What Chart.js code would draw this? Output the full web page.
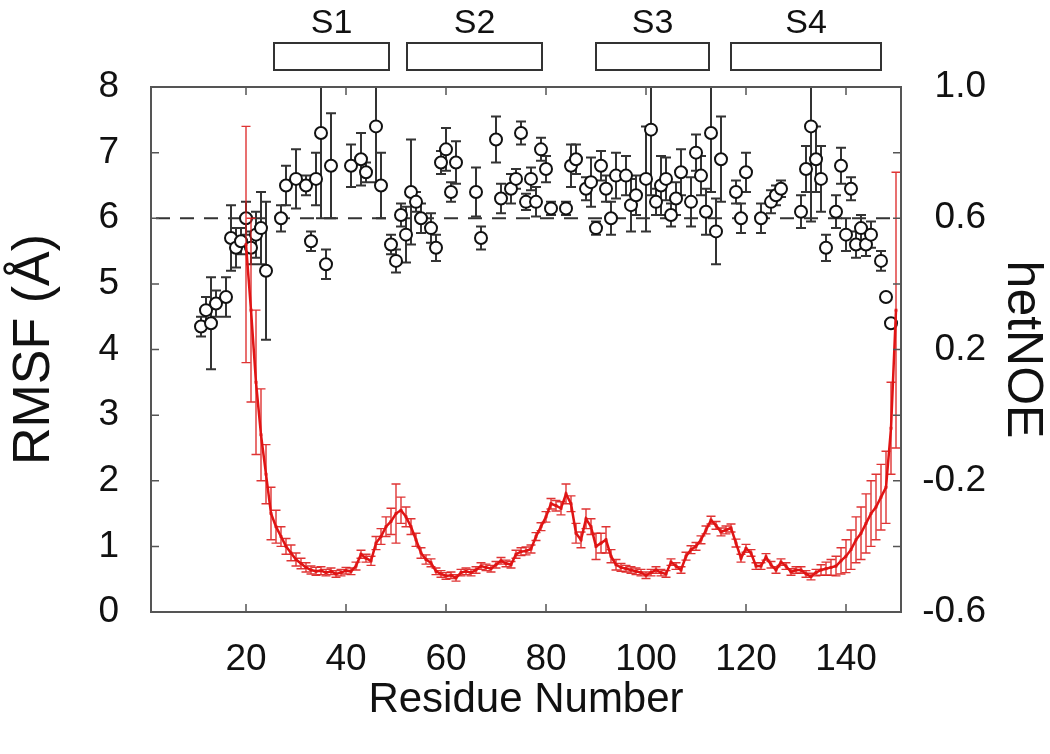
<!DOCTYPE html>
<html>
<head>
<meta charset="utf-8">
<script src="https://cdn.jsdelivr.net/npm/chart.js@4.4.1/dist/chart.umd.min.js"></script>
<style>
  html, body { margin: 0; padding: 0; background: #fff; }
</style>
</head>
<body>
<canvas id="chart" width="1050" height="754"></canvas>
<script>
// RMSF (left axis), one value per residue starting at residue 20
const rmsfFirstResidue = 20;
const rmsfValues = [
  5.6, 4.6, 3.5, 2.7, 2.1, 1.5, 1.3, 1.15, 1.0, 0.9,
  0.8, 0.74, 0.68, 0.64, 0.62, 0.63, 0.6, 0.62, 0.58, 0.6,
  0.63, 0.62, 0.7, 0.88, 0.82, 0.78, 1.05, 1.15, 1.3, 1.38,
  1.5, 1.55, 1.45, 1.3, 1.1, 0.9, 0.8, 0.75, 0.62, 0.58,
  0.55, 0.56, 0.52, 0.6, 0.62, 0.6, 0.64, 0.7, 0.68, 0.66,
  0.72, 0.78, 0.74, 0.72, 0.88, 0.92, 0.93, 0.96, 1.15, 1.3,
  1.45, 1.65, 1.62, 1.58, 1.8, 1.65, 1.2, 1.1, 1.42, 1.3,
  1.0, 1.05, 1.1, 0.85, 0.72, 0.68, 0.66, 0.64, 0.62, 0.6,
  0.56, 0.6, 0.64, 0.6, 0.58, 0.76, 0.7, 0.64, 0.85, 0.95,
  1.0, 1.1, 1.25, 1.4, 1.32, 1.22, 1.25, 1.28, 1.05, 0.82,
  0.97, 0.9, 0.7, 0.7, 0.84, 0.72, 0.64, 0.76, 0.7, 0.61,
  0.64, 0.64, 0.58, 0.54, 0.6, 0.64, 0.66, 0.68, 0.7, 0.78,
  0.85, 0.95, 1.1, 1.2, 1.35, 1.5, 1.6, 1.75, 1.9, 2.8,
  4.6
];
const rmsfErrors = [
  1.8, 1.4, 1.1, 0.7, 0.45, 0.4, 0.25, 0.15, 0.12, 0.12,
  0.1, 0.08, 0.07, 0.06, 0.06, 0.06, 0.05, 0.05, 0.05, 0.05,
  0.05, 0.05, 0.06, 0.06, 0.06, 0.07, 0.1, 0.12, 0.15, 0.2,
  0.45, 0.2, 0.15, 0.12, 0.1, 0.08, 0.07, 0.06, 0.05, 0.05,
  0.05, 0.05, 0.05, 0.05, 0.05, 0.05, 0.05, 0.05, 0.05, 0.05,
  0.05, 0.05, 0.05, 0.05, 0.06, 0.06, 0.06, 0.06, 0.06, 0.06,
  0.08, 0.08, 0.08, 0.1, 0.15, 0.12, 0.15, 0.12, 0.15, 0.12,
  0.2, 0.15, 0.2, 0.1, 0.08, 0.06, 0.05, 0.05, 0.05, 0.05,
  0.05, 0.05, 0.05, 0.05, 0.05, 0.05, 0.05, 0.05, 0.06, 0.06,
  0.06, 0.06, 0.06, 0.06, 0.06, 0.06, 0.06, 0.06, 0.06, 0.06,
  0.06, 0.05, 0.05, 0.05, 0.05, 0.05, 0.05, 0.05, 0.05, 0.05,
  0.05, 0.05, 0.05, 0.05, 0.05, 0.08, 0.1, 0.12, 0.15, 0.2,
  0.25, 0.3, 0.35, 0.4, 0.45, 0.5, 0.5, 0.5, 0.55, 0.7,
  2.1
];

// hetNOE (right axis)
const noeResidues = [
  11, 12, 13, 14, 16, 17, 18, 19, 20, 21, 22, 23, 24, 27, 28, 30, 32, 33, 34, 35,
  36, 37, 41, 43, 44, 46, 47, 49, 50, 51, 52, 53, 54, 55, 57, 58, 59, 60, 61, 62,
  66, 67, 70, 71, 73, 74, 75, 76, 77, 78, 79, 80, 81, 84, 85, 86, 88, 89, 90, 91,
  92, 93, 94, 96, 97, 98, 100, 101, 102, 103, 104, 105, 106, 107, 109, 110, 111, 112, 113, 114,
  115, 118, 119, 120, 123, 125, 126, 127, 131, 132, 133, 134, 135, 136, 138, 139, 140, 141, 142, 143,
  144, 145, 147, 148, 149
];
const noeValues = [
  0.27, 0.32, 0.28, 0.34, 0.36, 0.54, 0.51, 0.53, 0.60, 0.51, 0.55, 0.57, 0.44, 0.60, 0.70, 0.72, 0.70, 0.53, 0.72, 0.86,
  0.46, 0.76, 0.76, 0.78, 0.74, 0.88, 0.70, 0.52, 0.47, 0.61, 0.55, 0.68, 0.65, 0.60, 0.57, 0.51, 0.77, 0.81, 0.68, 0.77,
  0.68, 0.54, 0.84, 0.66, 0.69, 0.72, 0.86, 0.65, 0.72, 0.65, 0.81, 0.75, 0.63, 0.63, 0.76, 0.78, 0.69, 0.71, 0.57, 0.76,
  0.69, 0.60, 0.73, 0.73, 0.64, 0.67, 0.72, 0.87, 0.65, 0.70, 0.72, 0.61, 0.66, 0.74, 0.65, 0.80, 0.73, 0.62, 0.86, 0.56,
  0.78, 0.68, 0.60, 0.74, 0.60, 0.65, 0.67, 0.69, 0.62, 0.75, 0.88, 0.78, 0.72, 0.51, 0.62, 0.76, 0.55, 0.69, 0.52, 0.57,
  0.52, 0.55, 0.47, 0.36, 0.28
];
const noeErrors = [
  0.03, 0.04, 0.14, 0.04, 0.06, 0.1, 0.06, 0.04, 0.05, 0.05, 0.07, 0.11, 0.21, 0.04, 0.06, 0.09, 0.03, 0.03, 0.08, 0.26,
  0.045, 0.16, 0.065, 0.08, 0.03, 0.17, 0.1, 0.03, 0.035, 0.035, 0.085, 0.16, 0.03, 0.045, 0.045, 0.04, 0.035, 0.065, 0.03, 0.065,
  0.075, 0.035, 0.07, 0.045, 0.045, 0.03, 0.035, 0.025, 0.035, 0.045, 0.035, 0.04, 0.02, 0.02, 0.065, 0.045, 0.035, 0.075, 0.02, 0.045,
  0.04, 0.05, 0.07, 0.06, 0.08, 0.06, 0.16, 0.2, 0.04, 0.09, 0.065, 0.035, 0.05, 0.07, 0.075, 0.055, 0.06, 0.07, 0.18, 0.1,
  0.13, 0.035, 0.045, 0.06, 0.045, 0.035, 0.03, 0.025, 0.05, 0.07, 0.29, 0.1, 0.1, 0.04, 0.05, 0.055, 0.05, 0.035, 0.04, 0.04,
  0.035, 0.04, 0.03, 0.0, 0.0
];

// hetNOE cutoff line
const noeCutoff = 0.6;
const cutoffRange = [2, 150];

// secondary structure segments (residue ranges)
const segLabels = ["S1", "S2", "S3", "S4"];
const segStart = [25.6, 52.2, 90, 117];
const segEnd = [48.6, 79.2, 112.6, 147];

const xTicks = [20, 40, 60, 80, 100, 120, 140];

const FONT = "'Liberation Sans', Arial, Helvetica, sans-serif";
const INK = "#111";
const FRAME = "#555";

const rmsfData = rmsfValues.map((v, i) => ({ x: rmsfFirstResidue + i, y: v }));
const noeData = noeResidues.map((r, i) => ({ x: r, y: noeValues[i] }));

// error bars drawn under each dataset's marks, through its own y scale
const errorBars = {
  id: "errorBars",
  beforeDatasetDraw(chart, args) {
    const ds = chart.data.datasets[args.index];
    if (!ds.errors) return;
    const ctx = chart.ctx;
    const area = chart.chartArea;
    const yScale = chart.scales[args.meta.yAxisID];
    ctx.save();
    ctx.beginPath();
    ctx.rect(area.left, area.top, area.right - area.left, area.bottom - area.top);
    ctx.clip();
    ctx.strokeStyle = ds.errorColor;
    ctx.lineWidth = ds.errorWidth;
    args.meta.data.forEach((pt, i) => {
      const e = ds.errors[i];
      if (!e) return;
      const v = ds.data[i].y;
      const top = yScale.getPixelForValue(v + e);
      const bot = yScale.getPixelForValue(v - e);
      const c = ds.capWidth / 2;
      ctx.beginPath();
      ctx.moveTo(pt.x, top); ctx.lineTo(pt.x, bot);
      ctx.moveTo(pt.x - c, top); ctx.lineTo(pt.x + c, top);
      ctx.moveTo(pt.x - c, bot); ctx.lineTo(pt.x + c, bot);
      ctx.stroke();
    });
    ctx.restore();
  }
};

// frame with inward ticks, and the segment boxes above the plot
const frameAndSegments = {
  id: "frameAndSegments",
  afterDraw(chart) {
    const ctx = chart.ctx;
    const a = chart.chartArea;
    const xs = chart.scales.x;
    const ys = chart.scales.y;
    ctx.save();
    ctx.strokeStyle = FRAME;
    ctx.lineWidth = 2;
    ctx.strokeRect(a.left, a.top, a.right - a.left, a.bottom - a.top);
    ctx.lineWidth = 1.5;
    ctx.beginPath();
    xs.ticks.forEach(t => {
      const px = xs.getPixelForValue(t.value);
      ctx.moveTo(px, a.bottom); ctx.lineTo(px, a.bottom - 8);
      ctx.moveTo(px, a.top); ctx.lineTo(px, a.top + 8);
    });
    ys.ticks.forEach(t => {
      const py = ys.getPixelForValue(t.value);
      ctx.moveTo(a.left, py); ctx.lineTo(a.left + 8, py);
      ctx.moveTo(a.right, py); ctx.lineTo(a.right - 8, py);
    });
    ctx.stroke();

    ctx.strokeStyle = "#333";
    ctx.lineWidth = 2;
    ctx.fillStyle = INK;
    ctx.font = "34px " + FONT;
    ctx.textAlign = "center";
    ctx.textBaseline = "middle";
    segLabels.forEach((lab, i) => {
      const x0 = xs.getPixelForValue(segStart[i]);
      const x1 = xs.getPixelForValue(segEnd[i]);
      ctx.strokeRect(x0, 43, x1 - x0, 27);
      ctx.fillText(lab, (x0 + x1) / 2, 24);
    });
    ctx.restore();
  }
};

new Chart(document.getElementById("chart"), {
  type: "line",
  data: {
    datasets: [
      {
        label: "RMSF",
        data: rmsfData,
        yAxisID: "y",
        order: 0,
        borderColor: "#e01414",
        borderWidth: 2.5,
        pointRadius: 2,
        pointStyle: "rect",
        pointBackgroundColor: "#e01414",
        pointBorderWidth: 0,
        tension: 0,
        errors: rmsfErrors,
        errorColor: "rgba(220,30,30,0.9)",
        errorWidth: 1.4,
        capWidth: 9
      },
      {
        label: "hetNOE",
        data: noeData,
        yAxisID: "y1",
        order: 1,
        showLine: false,
        pointRadius: 6,
        pointBorderWidth: 2,
        pointBorderColor: "#111",
        pointBackgroundColor: "#fff",
        errors: noeErrors,
        errorColor: "#333",
        errorWidth: 2,
        capWidth: 10
      },
      {
        label: "cutoff",
        data: cutoffRange.map(x => ({ x: x, y: noeCutoff })),
        yAxisID: "y1",
        order: 2,
        borderColor: "#333",
        borderWidth: 2,
        borderDash: [14, 10],
        pointRadius: 0
      }
    ]
  },
  options: {
    responsive: false,
    animation: false,
    layout: { padding: { top: 87, left: 0, right: 0, bottom: 0 } },
    plugins: { legend: { display: false }, tooltip: { enabled: false } },
    scales: {
      x: {
        type: "linear",
        min: 1,
        max: 151,
        afterBuildTicks: s => { s.ticks = xTicks.map(v => ({ value: v })); },
        afterFit: s => { s.height = 142; },
        grid: { display: false },
        border: { display: false },
        ticks: { font: { family: FONT, size: 37 }, color: INK, padding: 18, maxRotation: 0 },
        title: { display: true, text: "Residue Number", font: { family: FONT, size: 42, lineHeight: 1 }, color: INK, padding: { top: 0, bottom: 33 } }
      },
      y: {
        position: "left",
        min: 0,
        max: 8,
        afterFit: s => { s.width = 151; },
        grid: { display: false },
        border: { display: false },
        ticks: { stepSize: 1, font: { family: FONT, size: 37 }, color: INK, padding: 24 },
        title: { display: true, text: "RMSF (Å)", font: { family: FONT, size: 52, lineHeight: 1 }, color: INK, padding: { top: 9, bottom: 0 } }
      },
      y1: {
        position: "right",
        min: -0.6,
        max: 1.0,
        weight: 0,
        afterFit: s => { s.width = 85; },
        grid: { display: false },
        border: { display: false },
        ticks: { stepSize: 0.4, crossAlign: "far", font: { family: FONT, size: 37 }, color: INK, callback: v => v.toFixed(1) }
      },
      yTitle: {
        position: "right",
        min: 0,
        max: 1,
        weight: 1,
        afterFit: s => { s.width = 64; },
        grid: { display: false },
        border: { display: false },
        ticks: { display: false },
        title: { display: true, text: "hetNOE", font: { family: FONT, size: 50, lineHeight: 1 }, color: INK, padding: { top: 3, bottom: 0 } }
      }
    }
  },
  plugins: [errorBars, frameAndSegments]
});
</script>
</body>
</html>
